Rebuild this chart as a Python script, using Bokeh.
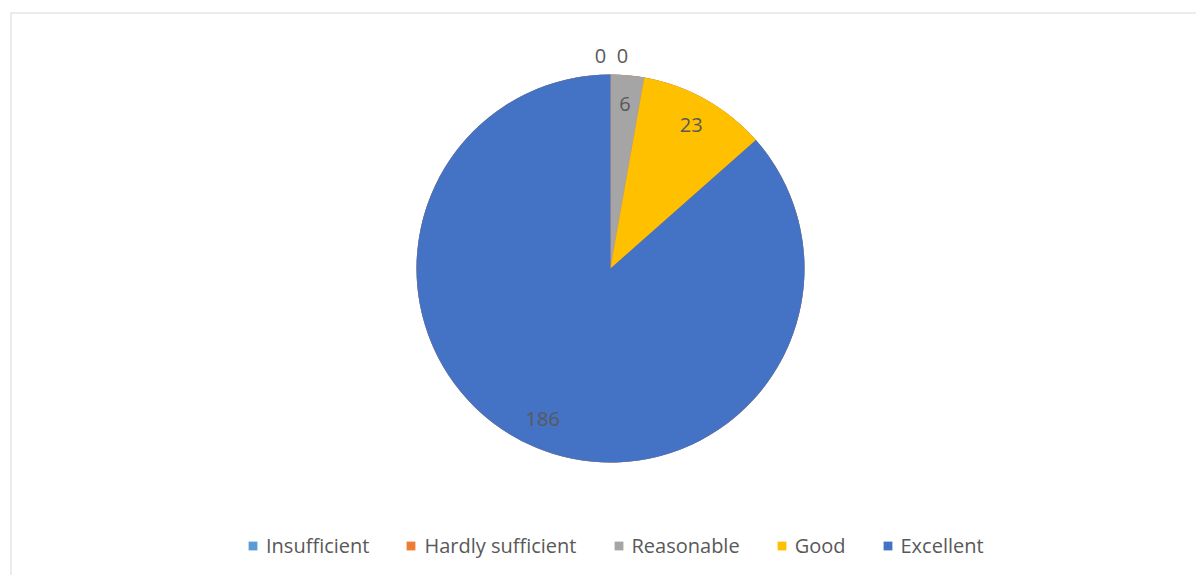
import math
from bokeh.plotting import figure
from bokeh.models import Range1d, ColumnDataSource, Legend, LegendItem, Span
from bokeh.core.properties import value
from bokeh.embed import file_html
from bokeh.resources import INLINE

categories = ["Insufficient", "Hardly sufficient", "Reasonable", "Good", "Excellent"]
counts = [0, 0, 6, 23, 186]
colors = ["#5B9BD5", "#ED7D31", "#A5A5A5", "#FFC000", "#4472C4"]

W, H = 1196, 575
LB, TB = 10, 12
FW, FH = W - LB, H - TB
p = figure(width=W, height=H, output_backend="svg", toolbar_location=None,
           x_range=Range1d(0, FW), y_range=Range1d(0, FH),
           min_border_left=LB, min_border_top=TB, min_border_right=0, min_border_bottom=0)
p.axis.visible = False
p.grid.visible = False
p.outline_line_color = None
p.background_fill_color = "white"
p.border_fill_color = "white"
p.add_layout(Span(location=0, dimension="height", line_color="#d9d9d9", line_width=2))
p.add_layout(Span(location=FH, dimension="width", line_color="#d9d9d9", line_width=2))

cx, cy, R = 600, 307, 194
total = sum(counts)
starts, ends, mids = [], [], []
acc = 0
for v in counts:
    a0 = math.pi / 2 - acc / total * 2 * math.pi
    acc += v
    a1 = math.pi / 2 - acc / total * 2 * math.pi
    starts.append(a0)
    ends.append(a1)
    mids.append((a0 + a1) / 2)

items = []
for i in range(5):
    r = p.wedge(x=cx, y=cy, radius=R, start_angle=starts[i], end_angle=ends[i],
                direction="clock", fill_color=colors[i], line_color=None)
    items.append(LegendItem(label=categories[i], renderers=[r]))

# data labels
lx, ly, lt, xo = [], [], [], []
zero_offsets = [-10, 12]
zi = 0
for i, v in enumerate(counts):
    if v > 0:
        rr = 0.85 * R
        off = 0
    else:
        rr = R + 19
        off = zero_offsets[zi]
        zi += 1
    lx.append(cx + rr * math.cos(mids[i]))
    ly.append(cy + rr * math.sin(mids[i]))
    lt.append(str(v))
    xo.append(off)
lsrc = ColumnDataSource(dict(x=lx, y=ly, t=lt, xo=xo))
p.text(x="x", y="y", text="t", x_offset="xo", source=lsrc, text_align="center",
       text_baseline="middle", text_font=value("Open Sans"), text_font_size="20px",
       text_color="#595959")

legend = Legend(items=items, orientation="horizontal", location=(237, 16),
                glyph_width=11, glyph_height=11, label_standoff=8, spacing=36,
                padding=0, margin=0, border_line_color=None, background_fill_alpha=0,
                label_text_font="Open Sans", label_text_font_size="20px",
                label_text_color="#595959")
p.add_layout(legend, "center")

open("out.html", "w").write(file_html(p, INLINE))
